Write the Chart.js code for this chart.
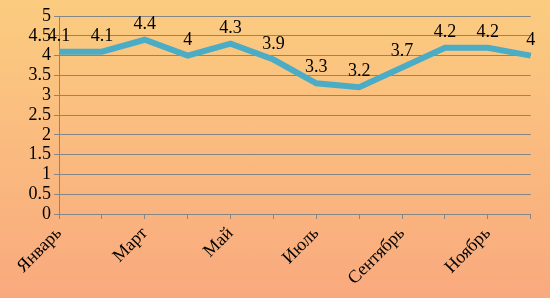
<!DOCTYPE html>
<html><head><meta charset="utf-8">
<script src="https://cdn.jsdelivr.net/npm/chart.js@4/dist/chart.umd.min.js"></script>
<style>
html,body{margin:0;padding:0;}
body{width:550px;height:298px;background:linear-gradient(to bottom,#FBCC80,#F9A97E);}
#wrap{width:550px;height:298px;position:relative;}
</style></head>
<body><div id="wrap"><canvas id="c" width="550" height="298"></canvas></div>
<script>
const months = ["Январь","Февраль","Март","Апрель","Май","Июнь","Июль","Август","Сентябрь","Октябрь","Ноябрь","Декабрь"];
const values = [4.1, 4.1, 4.4, 4, 4.3, 3.9, 3.3, 3.2, 3.7, 4.2, 4.2, 4];
const yTicks = [0,0.5,1,1.5,2,2.5,3,3.5,4,4.5,5];

const labelPlugin = {
  id:'dl',
  afterDatasetsDraw(chart){
    const ctx = chart.ctx;
    const meta = chart.getDatasetMeta(0);
    ctx.save();
    ctx.font = '18px "Liberation Serif"';
    ctx.fillStyle = '#000';
    ctx.textAlign = 'center';
    ctx.textBaseline = 'alphabetic';
    meta.data.forEach((pt,i)=>{
      ctx.fillText(String(values[i]), pt.x, pt.y - 11);
    });
    ctx.restore();
  }
};

new Chart(document.getElementById('c'),{
  type:'line',
  data:{labels:months,datasets:[{data:values,borderColor:'#4BACC6',borderWidth:6,pointRadius:0,tension:0,fill:false}]},
  options:{
    responsive:false,animation:false,
    layout:{padding:{top:16,right:10,left:0,bottom:0}},
    plugins:{legend:{display:false},tooltip:{enabled:false}},
    scales:{
      x:{
        offset:false,
        grid:{drawOnChartArea:false,drawTicks:true,tickLength:5,color:'#868686'},
        border:{color:'#868686'},
        ticks:{autoSkip:false,maxRotation:45,minRotation:45,color:'#000',font:{family:'Liberation Serif',size:18},padding:4,
          callback:(v,i)=> i%2===0 ? months[i] : ''},
        afterFit(s){s.height=84;}
      },
      y:{
        min:0,max:5,
        afterBuildTicks(s){s.ticks=yTicks.map(v=>({value:v}));},
        grid:{color:'#868686',tickLength:5},
        border:{color:'#868686'},
        ticks:{autoSkip:false,stepSize:0.5,color:'#000',font:{family:'Liberation Serif',size:18},padding:3,callback:v=>String(v)},
        afterFit(s){s.width=59;}
      }
    }
  },
  plugins:[labelPlugin]
});
</script></body></html>
